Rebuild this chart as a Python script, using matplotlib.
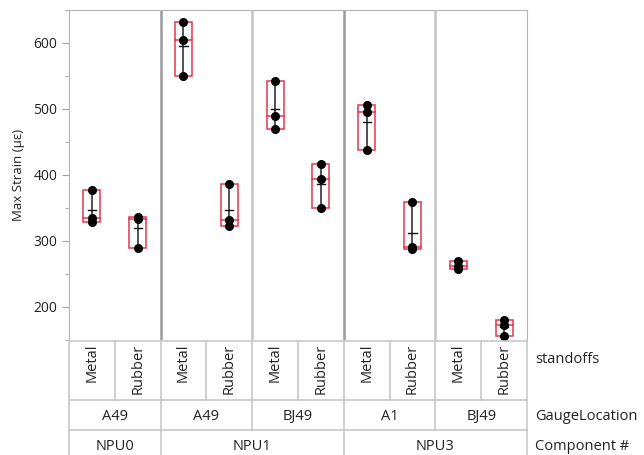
import numpy as np
import matplotlib.pyplot as plt
from matplotlib.patches import Rectangle

plt.rcParams['font.family'] = ['Open Sans', 'DejaVu Sans']

# variability chart data: 3 readings per standoff cell
components = ['NPU0', 'NPU1', 'NPU3']
component_span = [1, 2, 2]          # gauge locations under each component
gauges = ['A49', 'A49', 'BJ49', 'A1', 'BJ49']
standoffs = ['Metal', 'Rubber']

strain = [
    [377, 335, 329],   # NPU0 A49 Metal
    [336, 334, 289],   # NPU0 A49 Rubber
    [632, 604, 550],   # NPU1 A49 Metal
    [386, 332, 322],   # NPU1 A49 Rubber
    [542, 490, 470],   # NPU1 BJ49 Metal
    [417, 394, 350],   # NPU1 BJ49 Rubber
    [506, 495, 438],   # NPU3 A1 Metal
    [359, 291, 288],   # NPU3 A1 Rubber
    [269, 262, 257],   # NPU3 BJ49 Metal
    [180, 173, 156],   # NPU3 BJ49 Rubber
]

W, H = 644, 455
x0, x1 = 69, 527
ytop, ybot = 10, 340
red = '#e8344e'
grid_c = '#c8c8c8'
txt_c = '#222222'

fig = plt.figure(figsize=(W / 100, H / 100), dpi=100)
ax = fig.add_axes([x0 / W, (H - ybot) / H, (x1 - x0) / W, (ybot - ytop) / H])
ax.set_xlim(0, 10)
ax.set_ylim(150, 650)

for i, vals in enumerate(strain):
    xc = i + 0.5
    q1, med, q3 = np.percentile(vals, [25, 50, 75], method='weibull')
    ax.add_patch(Rectangle((xc - 0.185, q1), 0.37, q3 - q1, fill=False,
                           ec=red, lw=1.1, zorder=2))
    ax.plot([xc - 0.185, xc + 0.185], [med, med], color=red, lw=1.1, zorder=2)
    ax.plot([xc, xc], [min(vals), max(vals)], color='#333333', lw=1.2, zorder=3)
    m = np.mean(vals)
    ax.plot([xc - 0.09, xc + 0.09], [m, m], color='#111111', lw=1.0, zorder=3)
    ax.plot([xc] * len(vals), vals, 'o', color='black', ms=5.5, zorder=4)

# group separators
for xs in (2, 6):
    ax.axvline(xs, color='#9a9a9a', lw=1.8, zorder=1)
for xs in (4, 8):
    ax.axvline(xs, color='#c4c4c4', lw=1.8, zorder=1)

for s in ('left', 'top', 'right'):
    ax.spines[s].set_color('#b4b4b4')
ax.spines['bottom'].set_visible(False)
ax.set_xticks([])
ax.set_yticks([200, 300, 400, 500, 600])
ax.set_yticks([150, 250, 350, 450, 550, 650], minor=True)
ax.tick_params(axis='y', which='major', direction='out', length=5,
               color='#a0a0a0', labelsize=10, labelcolor=txt_c)
ax.tick_params(axis='y', which='minor', direction='out', length=3,
               color='#a0a0a0')
ax.set_ylabel('Max Strain (µε)', fontsize=9.5, color=txt_c, labelpad=6)

# factor table below the plot, in pixel rows
tab = fig.add_axes([x0 / W, 0, (x1 - x0) / W, (H - ybot) / H])
tab.set_xlim(0, 10)
tab.set_ylim(H, ybot)
tab.axis('off')

r0, r1, r2, r3 = 341.5, 400.5, 430, H
for y in (r0, r1, r2):
    tab.plot([0, 10], [y, y], color=grid_c, lw=1.2, clip_on=False)
for x in (0, 10):
    tab.plot([x, x], [r0, r3], color=grid_c, lw=1.2, clip_on=False)
for x in range(1, 10):
    tab.plot([x, x], [r0, r1], color=grid_c, lw=1.2)
for x in (2, 4, 6, 8):
    tab.plot([x, x], [r1, r2], color=grid_c, lw=1.2)
for x in (2, 6):
    tab.plot([x, x], [r2, r3], color=grid_c, lw=1.2)

for i in range(10):
    tab.text(i + 0.5, r0 + 2, standoffs[i % 2], rotation=90, ha='center',
             va='top', fontsize=10.5, color=txt_c)
for k, g in enumerate(gauges):
    tab.text(2 * k + 1, (r1 + r2) / 2 + 1, g, ha='center', va='center',
             fontsize=10.5, color=txt_c)
left = 0
for c, span in zip(components, component_span):
    tab.text(left + span, 447, c, ha='center', va='center', fontsize=10.5,
             color=txt_c)
    left += 2 * span

xr = 10 + 8 / 45.8
tab.text(xr, 360, 'standoffs', ha='left', va='center', fontsize=10.5,
         color=txt_c, clip_on=False)
tab.text(xr, 417, 'GaugeLocation', ha='left', va='center', fontsize=10.5,
         color=txt_c, clip_on=False)
tab.text(xr, 447, 'Component #', ha='left', va='center', fontsize=10.5,
         color=txt_c, clip_on=False)

fig.savefig('out.png', dpi=100)
